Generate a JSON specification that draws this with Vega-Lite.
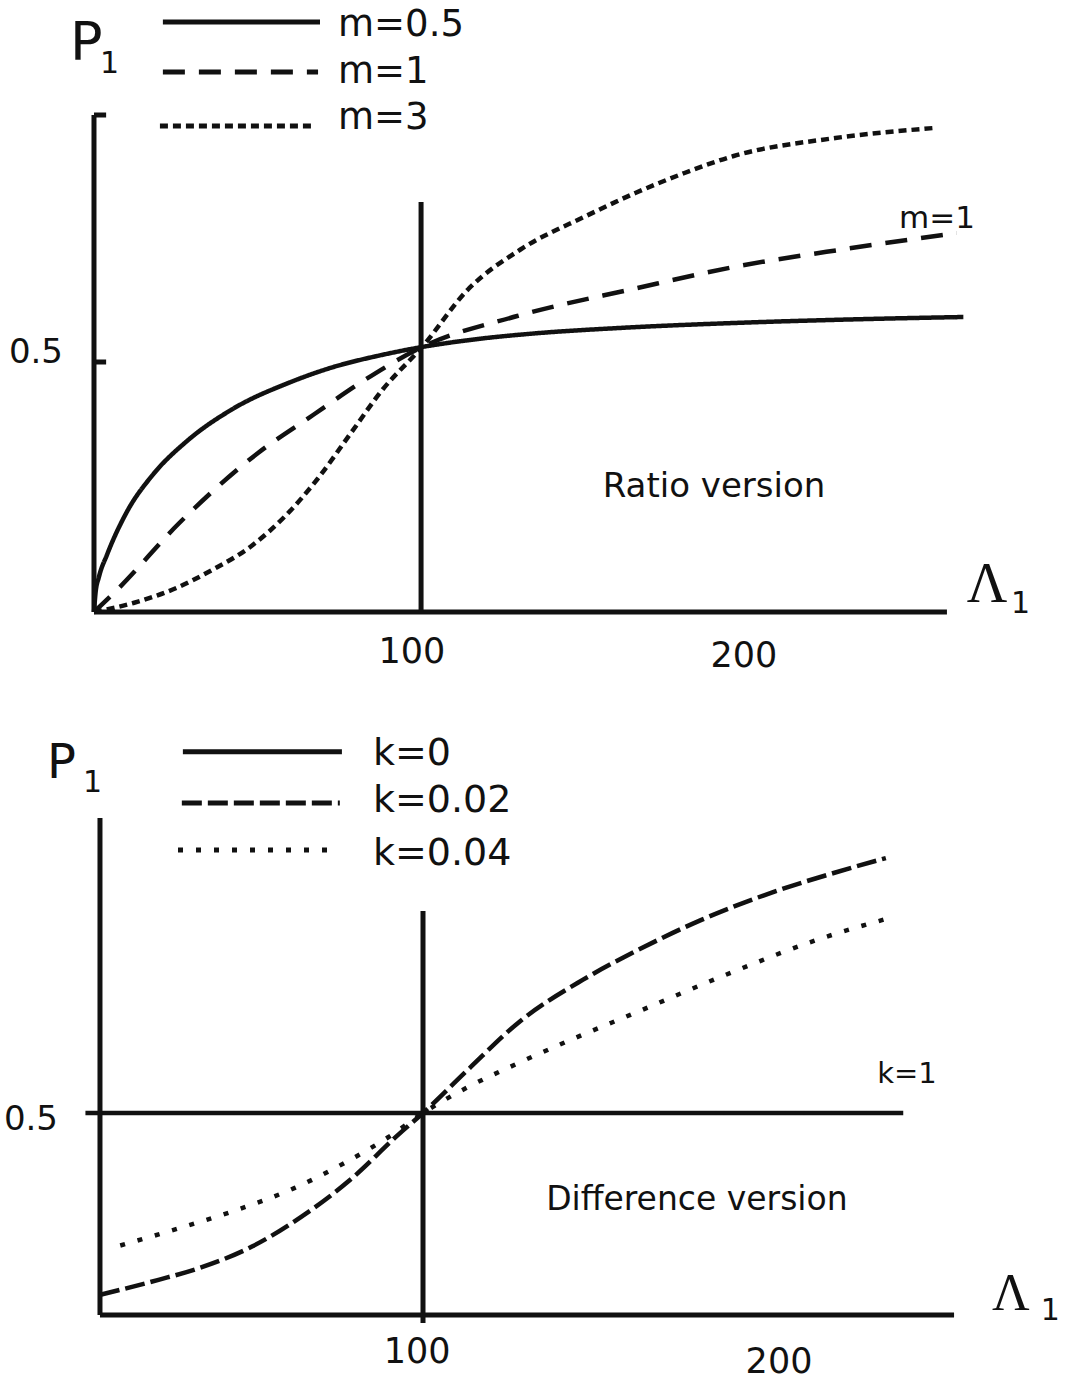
{
  "$schema": "https://vega.github.io/schema/vega-lite/v6.json",
  "padding": 0,
  "spacing": 0,
  "background": "white",
  "config": {"view": {"stroke": null}, "text": {"font": "DejaVu Sans", "color": "#111"}},
  "resolve": {"scale": {"x": "independent", "y": "independent", "strokeDash": "independent"}},
  "vconcat": [
    {
      "width": 1068,
      "height": 690,
      "encoding": {
        "x": {"field": "L", "type": "quantitative", "scale": {"domain": [-28.65, 296.9], "nice": false, "zero": false}, "axis": null},
        "y": {"field": "P", "type": "quantitative", "scale": {"domain": [-0.156, 1.224], "nice": false, "zero": false}, "axis": null}
      },
      "layer": [
        {
          "data": {"values": [
            {"series": "m=0.5", "L": 0, "P": 0}, {"series": "m=0.5", "L": 0.5, "P": 0.04}, {"series": "m=0.5", "L": 1.5, "P": 0.07}, {"series": "m=0.5", "L": 4, "P": 0.115},
            {"series": "m=0.5", "L": 10, "P": 0.2}, {"series": "m=0.5", "L": 18, "P": 0.275}, {"series": "m=0.5", "L": 28, "P": 0.34},
            {"series": "m=0.5", "L": 42, "P": 0.405}, {"series": "m=0.5", "L": 60, "P": 0.46}, {"series": "m=0.5", "L": 73, "P": 0.49},
            {"series": "m=0.5", "L": 87, "P": 0.513}, {"series": "m=0.5", "L": 100, "P": 0.53}, {"series": "m=0.5", "L": 117, "P": 0.546},
            {"series": "m=0.5", "L": 134, "P": 0.557}, {"series": "m=0.5", "L": 160, "P": 0.568}, {"series": "m=0.5", "L": 195, "P": 0.578},
            {"series": "m=0.5", "L": 230, "P": 0.585}, {"series": "m=0.5", "L": 265, "P": 0.59},
            {"series": "m=1", "L": 0, "P": 0}, {"series": "m=1", "L": 7, "P": 0.044}, {"series": "m=1", "L": 26, "P": 0.178},
            {"series": "m=1", "L": 50, "P": 0.318}, {"series": "m=1", "L": 67, "P": 0.395}, {"series": "m=1", "L": 83, "P": 0.466},
            {"series": "m=1", "L": 100, "P": 0.53}, {"series": "m=1", "L": 129, "P": 0.592}, {"series": "m=1", "L": 165, "P": 0.647},
            {"series": "m=1", "L": 195, "P": 0.69}, {"series": "m=1", "L": 230, "P": 0.727}, {"series": "m=1", "L": 263, "P": 0.758},
            {"series": "m=3", "L": 0, "P": 0}, {"series": "m=3", "L": 12, "P": 0.018}, {"series": "m=3", "L": 24, "P": 0.045},
            {"series": "m=3", "L": 36, "P": 0.084}, {"series": "m=3", "L": 48, "P": 0.132}, {"series": "m=3", "L": 58, "P": 0.19},
            {"series": "m=3", "L": 68, "P": 0.265}, {"series": "m=3", "L": 78, "P": 0.355}, {"series": "m=3", "L": 88, "P": 0.445},
            {"series": "m=3", "L": 100, "P": 0.53}, {"series": "m=3", "L": 114, "P": 0.645}, {"series": "m=3", "L": 130, "P": 0.725},
            {"series": "m=3", "L": 150, "P": 0.792}, {"series": "m=3", "L": 165, "P": 0.838}, {"series": "m=3", "L": 180, "P": 0.878},
            {"series": "m=3", "L": 195, "P": 0.912}, {"series": "m=3", "L": 226, "P": 0.948}, {"series": "m=3", "L": 256, "P": 0.968}
          ]},
          "mark": {"type": "line", "color": "#111", "strokeWidth": 4.5, "interpolate": "monotone"},
          "encoding": {"strokeDash": {"field": "series", "type": "nominal", "scale": {"domain": ["m=0.5", "m=1", "m=3"], "range": [[1, 0], [22, 14], [8, 5]]}, "legend": null}}
        },
        {
          "data": {"values": [
            {"series": "m=0.5", "L": 21.0, "P": 1.18}, {"series": "m=0.5", "L": 68.9, "P": 1.18},
            {"series": "m=1", "L": 21.0, "P": 1.08}, {"series": "m=1", "L": 68.3, "P": 1.08},
            {"series": "m=3", "L": 20.1, "P": 0.972}, {"series": "m=3", "L": 67.4, "P": 0.972}
          ]},
          "mark": {"type": "line", "color": "#111", "strokeWidth": 5},
          "encoding": {"strokeDash": {"field": "series", "type": "nominal", "scale": {"domain": ["m=0.5", "m=1", "m=3"], "range": [[1, 0], [22, 14], [8, 5]]}, "legend": null}}
        },
        {
          "data": {"values": [
            {"L": 0, "L2": 260, "P": 0}, {"L": 0, "L2": 3.7, "P": 0.5}, {"L": 0, "L2": 3.7, "P": 0.994}
          ]},
          "mark": {"type": "rule", "color": "#111", "strokeWidth": 5},
          "encoding": {"x2": {"field": "L2"}}
        },
        {
          "data": {"values": [
            {"L": 0, "P": 0, "P2": 0.994}, {"L": 99.7, "P": 0, "P2": 0.82}
          ]},
          "mark": {"type": "rule", "color": "#111", "strokeWidth": 5},
          "encoding": {"y2": {"field": "P2"}}
        },
        {
          "data": {"values": [{"L": -7.3, "P": 1.104, "t": "P"}]},
          "mark": {"type": "text", "fontSize": 54, "align": "left", "baseline": "alphabetic"},
          "encoding": {"text": {"field": "t"}}
        },
        {
          "data": {"values": [{"L": 1.8, "P": 1.078, "t": "1"}, {"L": 279.5, "P": -0.002, "t": "1"}]},
          "mark": {"type": "text", "fontSize": 30, "align": "left", "baseline": "alphabetic"},
          "encoding": {"text": {"field": "t"}}
        },
        {
          "data": {"values": [
            {"L": 74.4, "P": 1.152, "t": "m=0.5"}, {"L": 74.4, "P": 1.058, "t": "m=1"}, {"L": 74.4, "P": 0.966, "t": "m=3"}
          ]},
          "mark": {"type": "text", "fontSize": 37, "align": "left", "baseline": "alphabetic"},
          "encoding": {"text": {"field": "t"}}
        },
        {
          "data": {"values": [{"L": -9.45, "P": 0.498, "t": "0.5"}]},
          "mark": {"type": "text", "fontSize": 34, "align": "right", "baseline": "alphabetic"},
          "encoding": {"text": {"field": "t"}}
        },
        {
          "data": {"values": [{"L": 96.9, "P": -0.102, "t": "100"}, {"L": 198.1, "P": -0.11, "t": "200"}]},
          "mark": {"type": "text", "fontSize": 35, "align": "center", "baseline": "alphabetic"},
          "encoding": {"text": {"field": "t"}}
        },
        {
          "data": {"values": [{"L": 245.4, "P": 0.768, "t": "m=1"}]},
          "mark": {"type": "text", "fontSize": 31, "align": "left", "baseline": "alphabetic"},
          "encoding": {"text": {"field": "t"}}
        },
        {
          "data": {"values": [{"L": 189.0, "P": 0.23, "t": "Ratio version"}]},
          "mark": {"type": "text", "fontSize": 34, "align": "center", "baseline": "alphabetic"},
          "encoding": {"text": {"field": "t"}}
        },
        {
          "data": {"values": [{"L": 266.0, "P": 0.02, "t": "Λ"}]},
          "mark": {"type": "text", "font": "Liberation Serif", "fontSize": 56, "align": "left", "baseline": "alphabetic"},
          "encoding": {"text": {"field": "t"}}
        }
      ]
    },
    {
      "width": 1068,
      "height": 698,
      "encoding": {
        "x": {"field": "L", "type": "quantitative", "scale": {"domain": [-21.55, 285.34], "nice": false, "zero": false}, "axis": null},
        "y": {"field": "P", "type": "quantitative", "scale": {"domain": [-0.1807, 1.547], "nice": false, "zero": false}, "axis": null}
      },
      "layer": [
        {
          "data": {"values": [
            {"series": "k=0", "L": 3, "P": 0.5}, {"series": "k=0", "L": 100, "P": 0.5}, {"series": "k=0", "L": 238, "P": 0.5},
            {"series": "k=0.02", "L": 7.2, "P": 0.05}, {"series": "k=0.02", "L": 24, "P": 0.087}, {"series": "k=0.02", "L": 36, "P": 0.117},
            {"series": "k=0.02", "L": 51, "P": 0.17}, {"series": "k=0.02", "L": 65, "P": 0.243}, {"series": "k=0.02", "L": 79, "P": 0.334},
            {"series": "k=0.02", "L": 93, "P": 0.447}, {"series": "k=0.02", "L": 100, "P": 0.5}, {"series": "k=0.02", "L": 113, "P": 0.608},
            {"series": "k=0.02", "L": 128, "P": 0.728}, {"series": "k=0.02", "L": 146, "P": 0.83}, {"series": "k=0.02", "L": 161, "P": 0.9},
            {"series": "k=0.02", "L": 180, "P": 0.978}, {"series": "k=0.02", "L": 201, "P": 1.048}, {"series": "k=0.02", "L": 218, "P": 1.094},
            {"series": "k=0.02", "L": 233, "P": 1.131},
            {"series": "k=0.04", "L": 13, "P": 0.172}, {"series": "k=0.04", "L": 30, "P": 0.215}, {"series": "k=0.04", "L": 46.5, "P": 0.26},
            {"series": "k=0.04", "L": 63, "P": 0.314}, {"series": "k=0.04", "L": 78, "P": 0.379}, {"series": "k=0.04", "L": 90, "P": 0.44},
            {"series": "k=0.04", "L": 100, "P": 0.5}, {"series": "k=0.04", "L": 112, "P": 0.56}, {"series": "k=0.04", "L": 127, "P": 0.622},
            {"series": "k=0.04", "L": 140, "P": 0.672}, {"series": "k=0.04", "L": 161, "P": 0.748}, {"series": "k=0.04", "L": 187, "P": 0.842},
            {"series": "k=0.04", "L": 213, "P": 0.928}, {"series": "k=0.04", "L": 235, "P": 0.985}
          ]},
          "mark": {"type": "line", "color": "#111", "strokeWidth": 4.5, "interpolate": "monotone"},
          "encoding": {"strokeDash": {"field": "series", "type": "nominal", "scale": {"domain": ["k=0", "k=0.02", "k=0.04"], "range": [[1, 0], [20, 6], [5, 13]]}, "legend": null}}
        },
        {
          "data": {"values": [
            {"series": "k=0", "L": 31.0, "P": 1.394}, {"series": "k=0", "L": 76.7, "P": 1.394},
            {"series": "k=0.02", "L": 30.7, "P": 1.267}, {"series": "k=0.02", "L": 76.1, "P": 1.267},
            {"series": "k=0.04", "L": 29.6, "P": 1.151}, {"series": "k=0.04", "L": 73.3, "P": 1.151}
          ]},
          "mark": {"type": "line", "color": "#111", "strokeWidth": 5},
          "encoding": {"strokeDash": {"field": "series", "type": "nominal", "scale": {"domain": ["k=0", "k=0.02", "k=0.04"], "range": [[1, 0], [20, 6], [5, 13]]}, "legend": null}}
        },
        {
          "data": {"values": [{"L": 7.18, "L2": 252.6, "P": 0}]},
          "mark": {"type": "rule", "color": "#111", "strokeWidth": 5},
          "encoding": {"x2": {"field": "L2"}}
        },
        {
          "data": {"values": [
            {"L": 7.18, "P": 0, "P2": 1.23}, {"L": 100, "P": -0.02, "P2": 1.0}
          ]},
          "mark": {"type": "rule", "color": "#111", "strokeWidth": 5},
          "encoding": {"y2": {"field": "P2"}}
        },
        {
          "data": {"values": [{"L": -8.05, "P": 1.329, "t": "P"}]},
          "mark": {"type": "text", "fontSize": 48, "align": "left", "baseline": "alphabetic"},
          "encoding": {"text": {"field": "t"}}
        },
        {
          "data": {"values": [{"L": 2.3, "P": 1.295, "t": "1"}, {"L": 277.5, "P": -0.012, "t": "1"}]},
          "mark": {"type": "text", "fontSize": 30, "align": "left", "baseline": "alphabetic"},
          "encoding": {"text": {"field": "t"}}
        },
        {
          "data": {"values": [
            {"L": 85.6, "P": 1.361, "t": "k=0"}, {"L": 85.6, "P": 1.245, "t": "k=0.02"}, {"L": 85.6, "P": 1.114, "t": "k=0.04"}
          ]},
          "mark": {"type": "text", "fontSize": 38, "align": "left", "baseline": "alphabetic"},
          "encoding": {"text": {"field": "t"}}
        },
        {
          "data": {"values": [{"L": -4.89, "P": 0.458, "t": "0.5"}]},
          "mark": {"type": "text", "fontSize": 34, "align": "right", "baseline": "alphabetic"},
          "encoding": {"text": {"field": "t"}}
        },
        {
          "data": {"values": [{"L": 98.3, "P": -0.119, "t": "100"}, {"L": 202.3, "P": -0.144, "t": "200"}]},
          "mark": {"type": "text", "fontSize": 35, "align": "center", "baseline": "alphabetic"},
          "encoding": {"text": {"field": "t"}}
        },
        {
          "data": {"values": [{"L": 230.5, "P": 0.574, "t": "k=1"}]},
          "mark": {"type": "text", "fontSize": 29, "align": "left", "baseline": "alphabetic"},
          "encoding": {"text": {"field": "t"}}
        },
        {
          "data": {"values": [{"L": 178.7, "P": 0.26, "t": "Difference version"}]},
          "mark": {"type": "text", "fontSize": 33, "align": "center", "baseline": "alphabetic"},
          "encoding": {"text": {"field": "t"}}
        },
        {
          "data": {"values": [{"L": 263.5, "P": 0.012, "t": "Λ"}]},
          "mark": {"type": "text", "font": "Liberation Serif", "fontSize": 52, "align": "left", "baseline": "alphabetic"},
          "encoding": {"text": {"field": "t"}}
        }
      ]
    }
  ]
}
